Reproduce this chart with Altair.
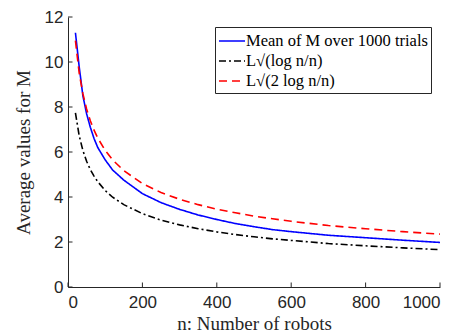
import altair as alt
import pandas as pd

n_values = [20, 30, 40, 50, 60, 70, 80, 100, 120, 150, 200, 250, 300, 350, 400,
            450, 500, 550, 600, 700, 800, 900, 1000]
mean_M = [11.3, 9.8, 8.5, 7.7, 7.1, 6.6, 6.2, 5.65, 5.2, 4.75, 4.15, 3.75, 3.45,
          3.2, 3.0, 2.82, 2.68, 2.55, 2.46, 2.3, 2.19, 2.08, 1.98]
bound_low = [7.74, 6.73, 6.07, 5.59, 5.22, 4.93, 4.68, 4.29, 3.99, 3.66, 3.26,
             2.97, 2.76, 2.59, 2.45, 2.33, 2.23, 2.14, 2.07, 1.93, 1.83, 1.74, 1.66]
bound_high = [10.95, 9.52, 8.59, 7.91, 7.39, 6.97, 6.62, 6.07, 5.65, 5.17, 4.60,
              4.20, 3.90, 3.66, 3.46, 3.30, 3.15, 3.03, 2.92, 2.73, 2.59, 2.46, 2.35]

series_names = ["Mean of M over 1000 trials", "L√(log n/n)", "L√(2 log n/n)"]
series_colors = ["#0000ff", "#000000", "#ff0000"]
series_dashes = [[1, 0], [7, 3, 2, 3], [8, 5]]

x_ticks = [0, 200, 400, 600, 800, 1000]
y_ticks = [0, 2, 4, 6, 8, 10, 12]

rows = []
for name, vals in zip(series_names, [mean_M, bound_low, bound_high]):
    for n, v in zip(n_values, vals):
        rows.append({"n": n, "value": v, "series": name})
df = pd.DataFrame(rows)

axis_color = "#262626"
xscale = alt.Scale(domain=[0, 1000], nice=False)
yscale = alt.Scale(domain=[0, 12], nice=False)

x_title = "n: Number of robots"
y_title = "Average values for M"

x_axis = alt.Axis(values=x_ticks, ticks=False, grid=False, format="d",
                  domainColor=axis_color, labelColor=axis_color,
                  labelFont="Liberation Sans", labelFontSize=17,
                  labelPadding=7, titleFont="Liberation Serif",
                  titleFontSize=19, titleFontWeight="normal",
                  titleColor=axis_color, titlePadding=4)
y_axis = alt.Axis(values=y_ticks, ticks=False, grid=False, format="d",
                  domainColor=axis_color, labelColor=axis_color,
                  labelFont="Liberation Sans", labelFontSize=17,
                  labelPadding=5, titleFont="Liberation Serif",
                  titleFontSize=19, titleFontWeight="normal",
                  titleColor=axis_color, titlePadding=11)

lines = alt.Chart(df).mark_line(strokeWidth=1.6).encode(
    x=alt.X("n:Q", scale=xscale, title=x_title, axis=x_axis),
    y=alt.Y("value:Q", scale=yscale, title=y_title, axis=y_axis),
    color=alt.Color("series:N",
                    scale=alt.Scale(domain=series_names, range=series_colors),
                    legend=alt.Legend(title=None, orient="none", legendX=147,
                                      legendY=10, symbolType="M-1.3,0H1.3",
                                      symbolSize=400, symbolStrokeWidth=1.6,
                                      symbolOffset=3,
                                      labelFont="Liberation Serif",
                                      labelFontSize=16.5, labelColor="black",
                                      labelLimit=400,
                                      strokeColor=axis_color, fillColor="white",
                                      padding=3, rowPadding=-0.5, labelOffset=3)),
    strokeDash=alt.StrokeDash("series:N",
                              scale=alt.Scale(domain=series_names, range=series_dashes),
                              legend=None),
    order=alt.Order("n:Q"),
)

xt = pd.DataFrame({"t": x_ticks})
yt = pd.DataFrame({"t": y_ticks})

x_tick_marks = alt.Chart(xt).mark_rule(color=axis_color, strokeWidth=1).encode(
    x=alt.X("t:Q", scale=xscale, title=x_title, axis=x_axis),
    y=alt.value(270), y2=alt.value(265.5),
)
y_tick_marks = alt.Chart(yt).mark_rule(color=axis_color, strokeWidth=1).encode(
    y=alt.Y("t:Q", scale=yscale, title=y_title, axis=y_axis),
    x=alt.value(0), x2=alt.value(4.5),
)

chart = alt.layer(lines, x_tick_marks, y_tick_marks).properties(
    width=372, height=270,
    padding={"left": 60, "top": 9, "right": 19, "bottom": 52},
    autosize=alt.AutoSizeParams(type="none"),
).configure_view(stroke=None).configure_legend(cornerRadius=0)

chart.save("out.html", embed_options={"renderer": "svg", "actions": False})
